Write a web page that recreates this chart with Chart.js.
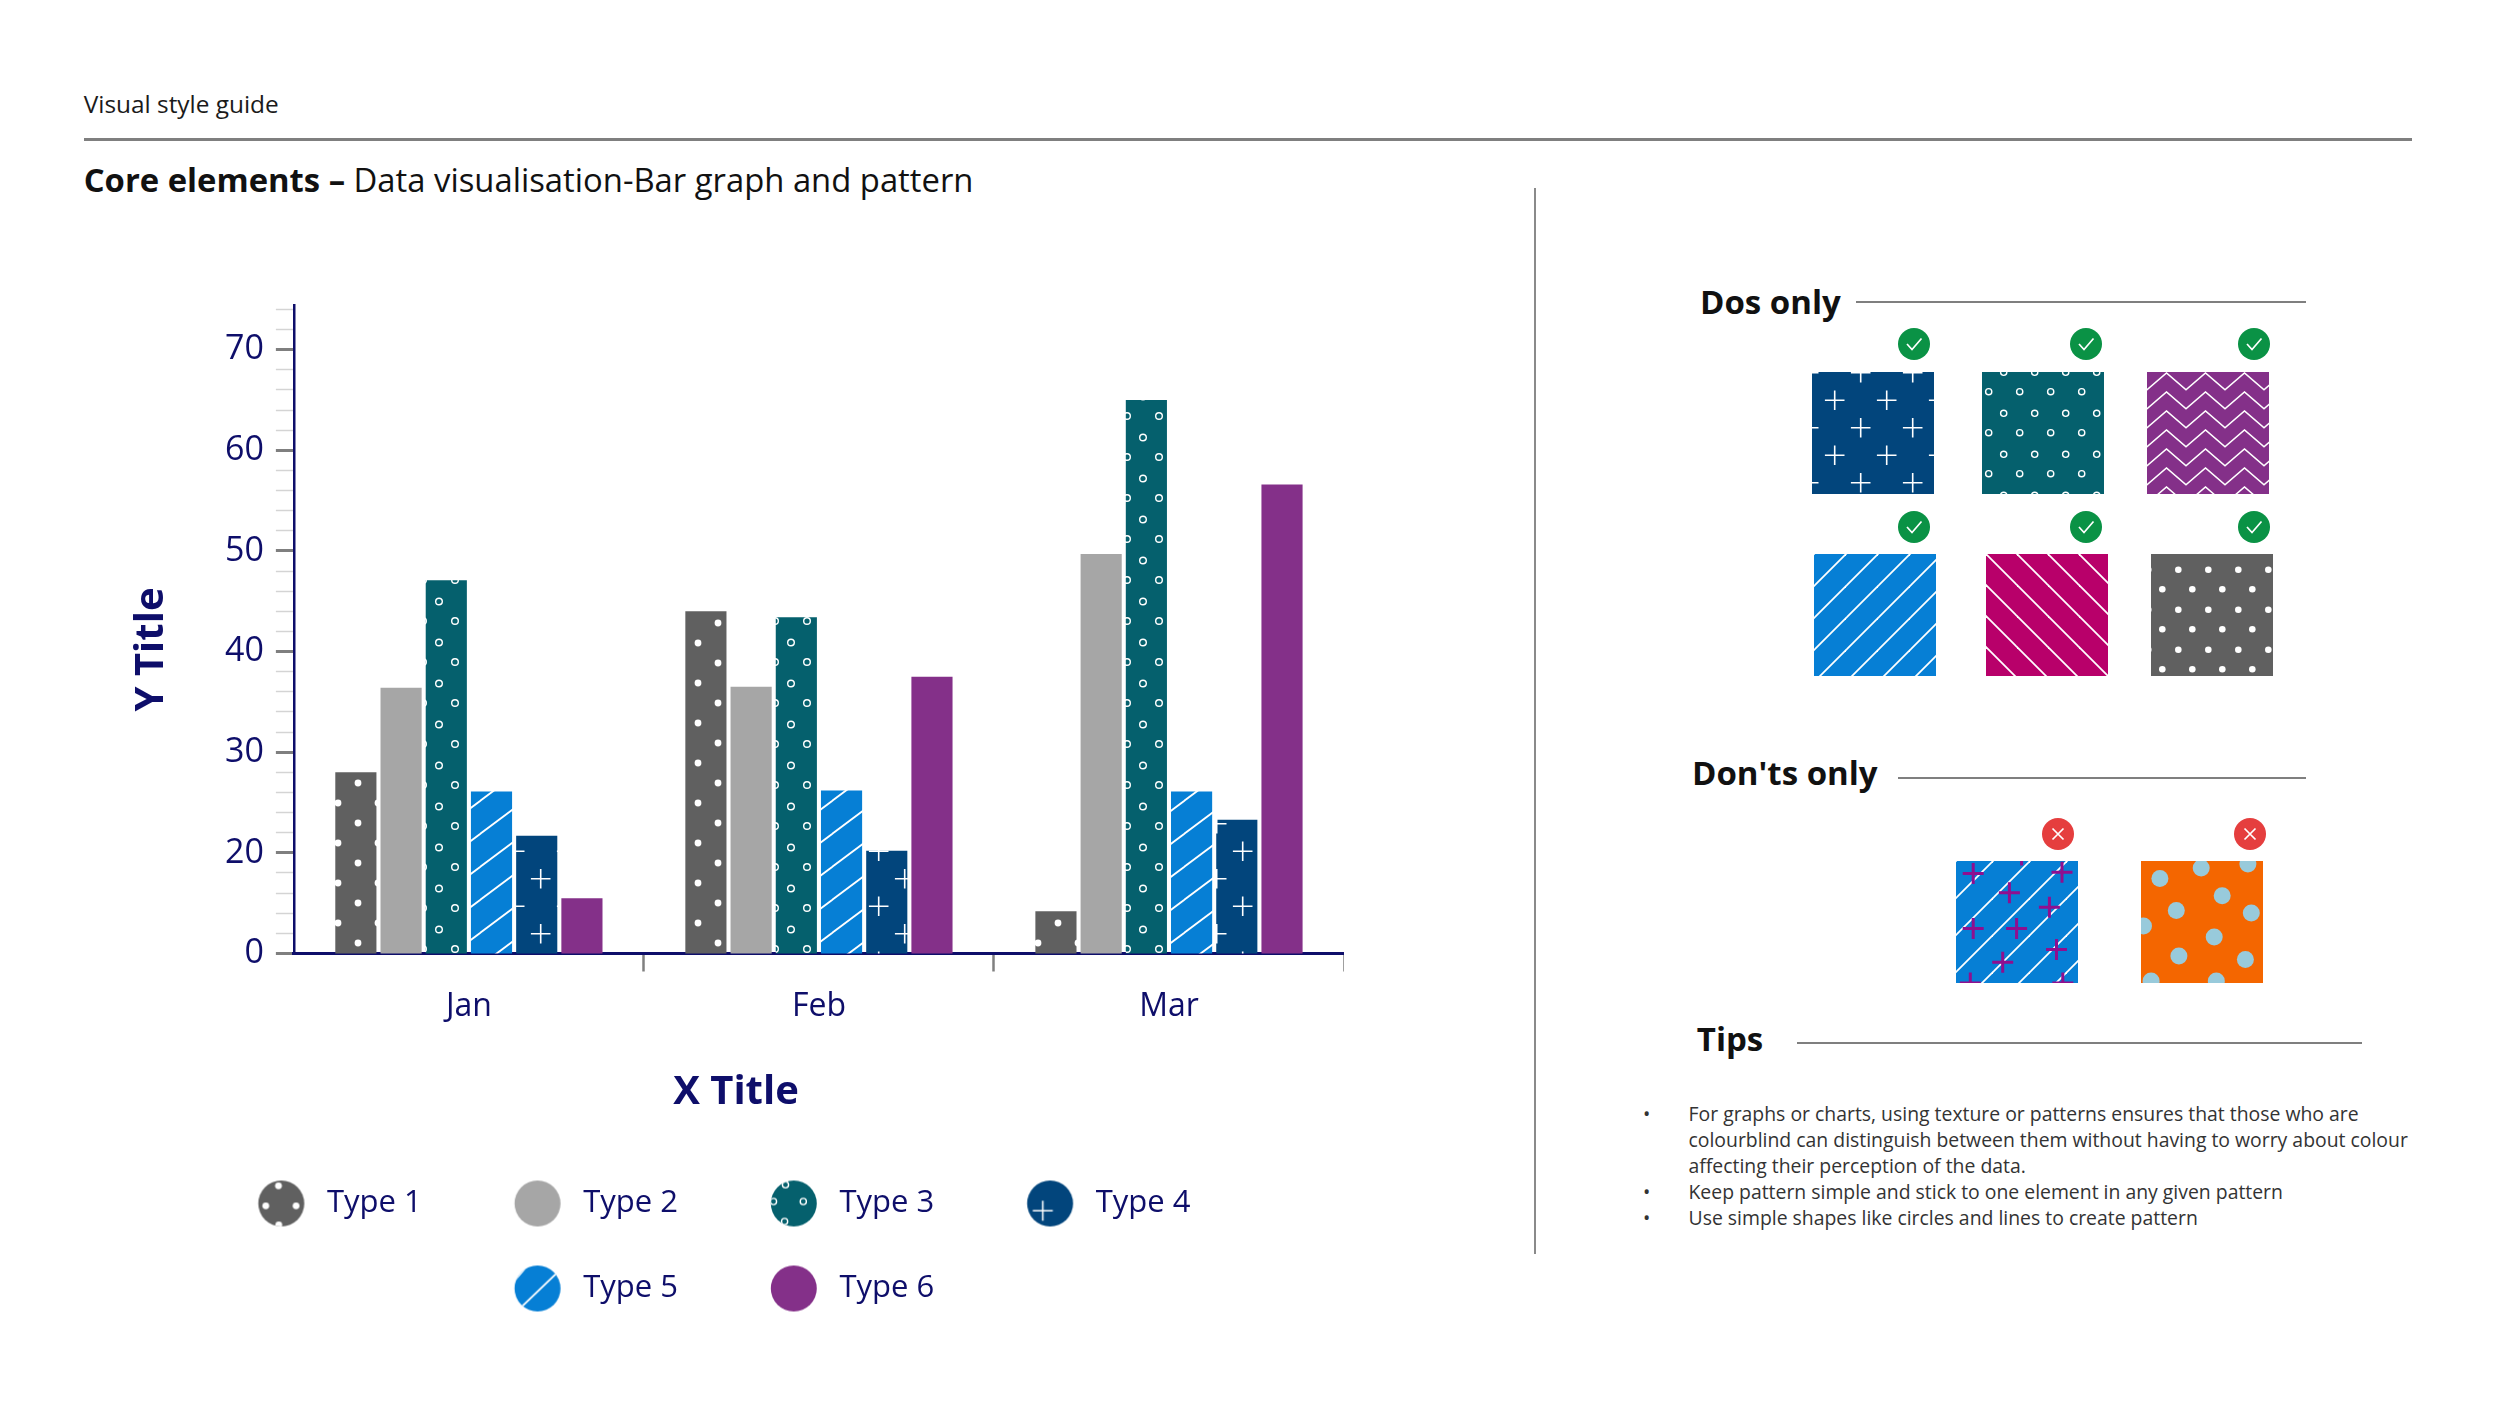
<!DOCTYPE html>
<html lang="en">
<head>
<meta charset="utf-8">
<title>Visual style guide – Data visualisation-Bar graph and pattern</title>
<script src="https://cdn.jsdelivr.net/npm/chart.js@4.4.1/dist/chart.umd.min.js"></script>
<style>
  html, body { margin:0; padding:0; background:#fff; }
  body { width:2500px; height:1407px; position:relative; overflow:hidden;
         font-family:'Open Sans','Noto Sans',sans-serif; color:#1a1a1a; }
  .t { position:absolute; line-height:1; white-space:nowrap; }
  .h3 { font-weight:700; font-size:33px; color:#111; }
  .rule { position:absolute; background:#7f7f7f; }
  .sw { position:absolute; }
  .ic { position:absolute; width:32px; height:32px; }
  #chartBox { position:absolute; left:128px; top:272.5px; width:1216px; height:1054px; }
  #tips { position:absolute; left:1643px; top:1101px; margin:0; padding:0; list-style:none;
          font-size:19.4px; line-height:26.1px; color:#333; white-space:nowrap; }
  #tips li { position:relative; padding-left:45.5px; }
  #tips li::before { content:'•'; position:absolute; left:0; top:0; font-size:19.4px; }
</style>
</head>
<body>
<div class="t" style="left:83.7px;top:92.1px;font-size:24.4px;">Visual style guide</div>
<div class="rule" style="left:83.7px;top:137.5px;width:2328px;height:3px;"></div>
<div class="t" style="left:83.7px;top:163.9px;font-size:32.8px;color:#111;"><b>Core elements –</b> Data visualisation-Bar graph and pattern</div>
<div class="rule" style="left:1534px;top:188.4px;width:2px;height:1066px;background:#8a8a8a;"></div>

<div class="t h3" style="left:1700px;top:285.4px;">Dos only</div>
<div class="rule" style="left:1856px;top:301px;width:450px;height:2px;"></div>
<div class="t h3" style="left:1692px;top:755.5px;">Don'ts only</div>
<div class="rule" style="left:1898px;top:777px;width:408px;height:2px;"></div>
<div class="t h3" style="left:1696.8px;top:1022.4px;">Tips</div>
<div class="rule" style="left:1797px;top:1041.5px;width:565px;height:2px;"></div>

<ul id="tips">
  <li>For graphs or charts, using texture or patterns ensures that those who are<br>colourblind can distinguish between them without having to worry about colour<br>affecting their perception of the data.</li>
  <li>Keep pattern simple and stick to one element in any given pattern</li>
  <li>Use simple shapes like circles and lines to create pattern</li>
</ul>

<div id="chartBox"><canvas id="chart"></canvas></div>

<script>
// ---------------- data ----------------
const categories = ['Jan', 'Feb', 'Mar'];
const type1 = [28.0, 44.0, 14.2];
const type2 = [36.4, 36.5, 49.7];
const type3 = [47.1, 43.4, 65.0];
const type5 = [26.1, 26.2, 26.1];
const type4 = [21.7, 20.2, 23.3];
const type6 = [15.5, 37.5, 56.6];
const yTickValues = [10, 20, 30, 40, 50, 60, 70];
const yTickLabels = ['0', '20', '30', '40', '50', '60', '70'];
const legendOrder = ['Type 1', 'Type 2', 'Type 3', 'Type 4', 'Type 5', 'Type 6'];

// ---------------- styles ----------------
const NAVY = '#0e0e6a';
const COL = { t1:'#606060', t2:'#a6a6a6', t3:'#05606d', t4:'#02457c', t5:'#067fd5', t6:'#843089',
              mag:'#b8006a', org:'#f46600', dot:'#98cadb', plus:'#8f0f8f', ok:'#0a9245', no:'#e53e3e' };

function mk(w, h, bg) {
  const c = document.createElement('canvas'); c.width = w; c.height = h;
  const g = c.getContext('2d'); if (bg) { g.fillStyle = bg; g.fillRect(0, 0, w, h); }
  return [c, g];
}
function offs(w, h) { const o = []; for (const dx of [-w, 0, w]) for (const dy of [-h, 0, h]) o.push([dx, dy]); return o; }
function dotsTile(w, h, bg, pts, r, col) {
  const [c, g] = mk(w, h, bg); g.fillStyle = col || '#fff';
  pts.forEach(([x, y]) => offs(w, h).forEach(([dx, dy]) => { g.beginPath(); g.arc(x + dx, y + dy, r, 0, Math.PI * 2); g.fill(); }));
  return c;
}
function ringsTile(w, h, bg, pts, r, lw) {
  const [c, g] = mk(w, h, bg); g.strokeStyle = '#fff'; g.lineWidth = lw;
  pts.forEach(([x, y]) => offs(w, h).forEach(([dx, dy]) => { g.beginPath(); g.arc(x + dx, y + dy, r, 0, Math.PI * 2); g.stroke(); }));
  return c;
}
function plusTile(w, h, bg, pts, a, lw) {
  const [c, g] = mk(w, h, bg); g.strokeStyle = '#fff'; g.lineWidth = lw;
  pts.forEach(([x, y]) => offs(w, h).forEach(([dx, dy]) => {
    g.beginPath(); g.moveTo(x + dx - a, y + dy); g.lineTo(x + dx + a, y + dy);
    g.moveTo(x + dx, y + dy - a); g.lineTo(x + dx, y + dy + a); g.stroke();
  }));
  return c;
}
function stripeTile(w, h, bg, lw, dir) {
  const [c, g] = mk(w, h, bg); g.strokeStyle = '#fff'; g.lineWidth = lw;
  for (const k of [-1, 0, 1]) {
    g.beginPath();
    if (dir > 0) { g.moveTo(k * w - w, 2 * h); g.lineTo(k * w + 2 * w, -h); }
    else { g.moveTo(k * w - w, -h); g.lineTo(k * w + 2 * w, 2 * h); }
    g.stroke();
  }
  return c;
}
function zigzagTile(w, h, bg, amp, lw, t) {
  const [c, g] = mk(w, h, bg); g.strokeStyle = '#fff'; g.lineWidth = lw;
  for (const dy of [-h, 0, h]) {
    const y = t + dy; g.beginPath();
    g.moveTo(-w / 2, y); g.lineTo(0, y + amp); g.lineTo(w / 2, y); g.lineTo(w, y + amp); g.lineTo(1.5 * w, y);
    g.stroke();
  }
  return c;
}

const tileT1 = dotsTile(40, 40, COL.t1, [[10, 10], [30, 30]], 3.4);
const tileT3 = ringsTile(32, 41, COL.t3, [[7, 20], [23, 0.5]], 3.3, 1.4);
const tileT4 = plusTile(52, 55, COL.t4, [[22.7, 28.3], [48.7, 0.8]], 9.8, 1.6);
const tileT5 = stripeTile(44, 33, COL.t5, 1.8, 1);

// ---------------- legend symbols ----------------
const LEG_BOX = 61;
function legendImg(fill, deco) {
  const [c, g] = mk(LEG_BOX, 48);
  const cx = LEG_BOX - 30.2, cy = 24, r = 23;
  g.save(); g.beginPath(); g.arc(cx, cy, r, 0, Math.PI * 2); g.clip();
  g.fillStyle = fill; g.fillRect(0, 0, LEG_BOX, 48);
  g.fillStyle = '#fff'; g.strokeStyle = '#fff';
  if (deco) deco(g, cx, cy);
  g.restore();
  return c;
}
const legendImgs = {
  'Type 1': legendImg(COL.t1, (g, x, y) => {
    [[-2.8, -17.7], [-15.5, 2.3], [14.8, 2.3], [-2.5, 21.3]].forEach(([a, b]) => { g.beginPath(); g.arc(x + a, y + b, 3.4, 0, Math.PI * 2); g.fill(); });
  }),
  'Type 2': legendImg(COL.t2),
  'Type 3': legendImg(COL.t3, (g, x, y) => {
    g.lineWidth = 1.4;
    [[-8.3, -18.7], [-20.3, -2], [9.5, -2], [-9.2, 18]].forEach(([a, b]) => { g.beginPath(); g.arc(x + a, y + b, 3.1, 0, Math.PI * 2); g.stroke(); });
  }),
  'Type 4': legendImg(COL.t4, (g, x, y) => {
    g.lineWidth = 1.6; g.beginPath();
    g.moveTo(x - 17.3, y + 7.3); g.lineTo(x + 2.7, y + 7.3); g.moveTo(x - 7.3, y - 2.7); g.lineTo(x - 7.3, y + 17.3); g.stroke();
  }),
  'Type 5': legendImg(COL.t5, (g, x, y) => {
    g.lineWidth = 1.8; g.beginPath();
    g.moveTo(x - 26, y + 28); g.lineTo(x + 26, y - 22);
    g.moveTo(x - 34, y + 5); g.lineTo(x - 4, y - 30); g.stroke();
  }),
  'Type 6': legendImg(COL.t6)
};

// ---------------- chart ----------------
const cvs = document.getElementById('chart');
const cctx = cvs.getContext('2d');
const pat = t => cctx.createPattern(t, 'repeat');
Chart.defaults.font.family = "'Open Sans','Noto Sans',sans-serif";

const isMajor = v => yTickValues.indexOf(v) >= 0;

new Chart(cvs, {
  type: 'bar',
  data: {
    labels: categories,
    datasets: [
      { label: 'Type 1', data: type1, backgroundColor: pat(tileT1) },
      { label: 'Type 2', data: type2, backgroundColor: COL.t2 },
      { label: 'Type 3', data: type3, backgroundColor: pat(tileT3) },
      { label: 'Type 5', data: type5, backgroundColor: pat(tileT5) },
      { label: 'Type 4', data: type4, backgroundColor: pat(tileT4) },
      { label: 'Type 6', data: type6, backgroundColor: COL.t6 }
    ]
  },
  options: {
    responsive: true, maintainAspectRatio: false, animation: false,
    layout: { padding: { top: 30, bottom: 13, left: 0, right: 0 } },
    datasets: { bar: { categoryPercentage: 0.775, barPercentage: 0.91, borderWidth: 0 } },
    scales: {
      x: {
        z: 1,
        grid: { display: true, drawOnChartArea: false, drawTicks: true, offset: true, tickLength: 18, tickWidth: 2.5,
                tickColor: c => (c.index === 0 ? 'rgba(0,0,0,0)' : '#808080') },
        border: { display: true, color: NAVY, width: 3 },
        ticks: { color: NAVY, font: { size: 32 }, padding: 16, maxRotation: 0 }
      },
      y: {
        z: 1, min: 10, max: 74.4,
        afterBuildTicks: scale => {
          const t = []; for (let v = 10; v <= 74; v += 2) t.push({ value: v });
          scale.ticks = t;
        },
        grid: { display: true, drawOnChartArea: false, drawTicks: true, tickLength: 18,
                tickColor: c => (c.tick && isMajor(c.tick.value) ? '#7f7f7f' : '#d4d4d4'),
                tickWidth: c => (c.tick && isMajor(c.tick.value) ? 3 : 1.5) },
        border: { display: true, color: NAVY, width: 2.5 },
        ticks: { autoSkip: false, color: NAVY, font: { size: 34 }, padding: 12,
                 callback: v => { const i = yTickValues.indexOf(v); return i >= 0 ? yTickLabels[i] : ''; } },
        // trailing em space nudges the centred, rotated title slightly below the axis middle
        title: { display: true, text: 'Y Title\u2003', color: NAVY, font: { size: 40, weight: 'bold' }, padding: { top: 0, bottom: 37 } }
      }
    },
    plugins: {
      tooltip: { enabled: false },
      legend: {
        position: 'bottom',
        title: { display: true, text: 'X Title', color: NAVY, font: { size: 40, weight: 'bold' }, padding: { top: 30.6, bottom: 13.5 } },
        labels: {
          usePointStyle: true, pointStyleWidth: LEG_BOX, padding: 54, color: NAVY, font: { size: 31 },
          generateLabels: chart => {
            const items = Chart.defaults.plugins.legend.labels.generateLabels(chart);
            items.forEach(it => {
              it.pointStyle = legendImgs[it.text];
              it.lineWidth = 0;
              it.text = it.text + '\u2003';   // trailing em space: gap before the next item
            });
            return items;
          },
          sort: (a, b, data) => legendOrder.indexOf(data.datasets[a.datasetIndex].label) -
                                legendOrder.indexOf(data.datasets[b.datasetIndex].label)
        }
      }
    }
  }
});

// ---------------- right panel: pattern swatches & icons ----------------
function swatch(x, y, painter) {
  const [c, g] = mk(122, 122);
  c.className = 'sw'; c.style.left = x + 'px'; c.style.top = y + 'px';
  painter(g); document.body.appendChild(c);
}
function fillTile(t) { return g => { g.fillStyle = g.createPattern(t, 'repeat'); g.fillRect(0, 0, 122, 122); }; }

swatch(1812, 372.3, fillTile(tileT4));
swatch(1982.3, 372.3, fillTile(ringsTile(31, 41, COL.t3, [[6.7, 19.7], [21.7, 0.3]], 3.1, 1.4)));
swatch(2146.7, 372.3, fillTile(zigzagTile(39, 19, COL.t6, 16.7, 1.6, 1)));
swatch(1814.3, 554.3, fillTile(stripeTile(32, 32, COL.t5, 1.8, 1)));
swatch(1985.7, 554.3, fillTile(stripeTile(31, 31, COL.mag, 1.8, -1)));
swatch(2151, 554.3, fillTile(dotsTile(30, 40, COL.t1, [[27.3, 15.7], [11.3, 35.3]], 3.3)));

swatch(1955.5, 861, g => {
  fillTile(stripeTile(37, 37, COL.t5, 1.8, 1))(g);
  g.strokeStyle = COL.plus; g.lineWidth = 3;
  [[17.2, 12.4], [106, 11.2], [53.4, 31.7], [93.4, 46.3], [17.2, 67.6], [60.6, 67.6], [100.5, 88.4], [46.7, 101.2], [14.3, 122], [106.8, 122], [65.6, -6]]
    .forEach(([x, y]) => { g.beginPath(); g.moveTo(x - 10.5, y); g.lineTo(x + 10.5, y); g.moveTo(x, y - 10.5); g.lineTo(x, y + 10.5); g.stroke(); });
});
swatch(2141, 861, g => {
  g.fillStyle = COL.org; g.fillRect(0, 0, 122, 122); g.fillStyle = COL.dot;
  [[18.9, 17.4], [60.2, 6.9], [106.9, 3.1], [81.2, 34.7], [35.3, 49.4], [110.3, 52.1], [2.5, 64.9], [73.2, 76.1], [37.9, 95], [104.4, 98.5], [10.1, 120], [75.3, 120]]
    .forEach(([x, y]) => { g.beginPath(); g.arc(x, y, 8.5, 0, Math.PI * 2); g.fill(); });
});

function icon(cx, cy, ok) {
  const s = document.createElementNS('http://www.w3.org/2000/svg', 'svg');
  s.setAttribute('class', 'ic'); s.setAttribute('viewBox', '0 0 32 32');
  s.style.left = (cx - 16) + 'px'; s.style.top = (cy - 16) + 'px';
  s.innerHTML = '<circle cx="16" cy="16" r="16" fill="' + (ok ? COL.ok : COL.no) + '"/>' +
    (ok ? '<polyline points="9,16 14,21.5 23.5,10.5" fill="none" stroke="#fff" stroke-width="1.7"/>'
        : '<path d="M10.5 10.5 L21.5 21.5 M21.5 10.5 L10.5 21.5" stroke="#fff" stroke-width="1.7"/>');
  document.body.appendChild(s);
}
[[1914.3, 344.3], [2085.7, 344.3], [2254, 344.3], [1914.3, 526.7], [2085.7, 526.7], [2254, 526.7]].forEach(p => icon(p[0], p[1], true));
[[2057.5, 834.4], [2249.8, 834.4]].forEach(p => icon(p[0], p[1], false));
</script>
</body>
</html>
